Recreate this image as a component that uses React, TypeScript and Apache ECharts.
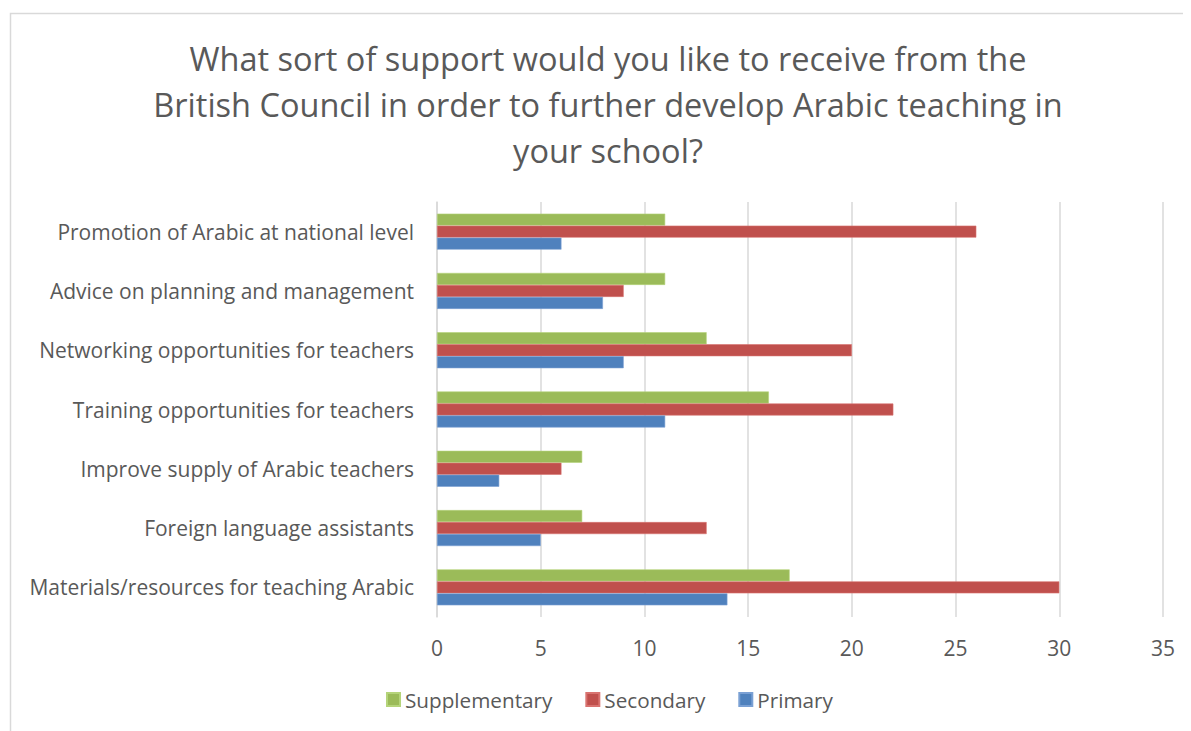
import React, { useEffect, useRef } from "react";
import * as echarts from "echarts";

const categories = [
  "Promotion of Arabic at national level",
  "Advice on planning and management",
  "Networking opportunities for teachers",
  "Training opportunities for teachers",
  "Improve supply of Arabic teachers",
  "Foreign language assistants",
  "Materials/resources for teaching Arabic",
];
const supplementary = [11, 11, 13, 16, 7, 7, 17];
const secondary = [26, 9, 20, 22, 6, 13, 30];
const primary = [6, 8, 9, 11, 3, 5, 14];
const seriesNames = ["Supplementary", "Secondary", "Primary"];
const colors = ["#9BBB59", "#C0504D", "#4F81BD"];
const edgeColors = ["#b5d47a", "#d97370", "#7aa0d4"];
const titleText =
  "What sort of support would you like to receive from the\nBritish Council in order to further develop Arabic teaching in\nyour school?";

const FONT = "'Open Sans', sans-serif";
const TEXT = "#595959";

export default function App() {
  const ref = useRef<HTMLDivElement>(null);
  useEffect(() => {
    if (!ref.current) return;
    const chart = echarts.init(ref.current, undefined, { renderer: "svg" });
    const data = [supplementary, secondary, primary];
    chart.setOption({
      animation: false,
      backgroundColor: "#ffffff",
      textStyle: { fontFamily: FONT, color: TEXT },
      graphic: [
        {
          type: "rect",
          shape: { x: 2.5, y: 5.5, width: 1300, height: 1000 },
          style: { fill: "none", stroke: "#d9d9d9", lineWidth: 1.5 },
          silent: true,
        },
        {
          type: "text",
          x: 600,
          y: 27,
          style: {
            text: titleText,
            textAlign: "center",
            textVerticalAlign: "top",
            fontFamily: FONT,
            fontSize: 32.5,
            lineHeight: 46,
            fill: TEXT,
          },
        },
      ],
      legend: {
        data: seriesNames,
        bottom: 16,
        left: 373,
        icon: "rect",
        itemWidth: 13,
        itemHeight: 13,
        itemGap: 33,
        textStyle: { fontFamily: FONT, fontSize: 20.7, color: TEXT },
      },
      grid: { left: 429, right: 28, top: 194, bottom: 114, containLabel: false },
      xAxis: {
        type: "value",
        min: 0,
        max: 35,
        interval: 5,
        axisLine: { show: false },
        axisTick: { show: false },
        splitLine: { lineStyle: { color: "#d9d9d9", width: 1.5 } },
        axisLabel: { fontFamily: FONT, fontSize: 21, color: TEXT, margin: 20 },
      },
      yAxis: {
        type: "category",
        data: categories,
        inverse: true,
        axisLine: { show: true, lineStyle: { color: "#d9d9d9", width: 1.5 } },
        axisTick: { show: false },
        axisLabel: { fontFamily: FONT, fontSize: 21, color: TEXT, margin: 23 },
      },
      series: seriesNames.map((name, i) => ({
        name,
        type: "bar",
        data: data[i],
        barWidth: 12,
        barGap: "0%",
        itemStyle: { color: colors[i], borderColor: edgeColors[i], borderWidth: 0.6 },
      })),
    });
    return () => chart.dispose();
  }, []);
  return <div ref={ref} style={{ width: 1183, height: 723 }} />;
}
